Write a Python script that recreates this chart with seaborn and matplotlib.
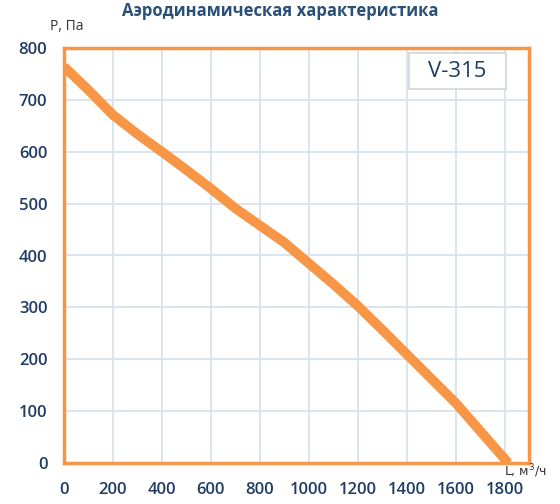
import numpy as np
import pandas as pd
import matplotlib
matplotlib.use("Agg")
import matplotlib.pyplot as plt
from matplotlib.patches import Rectangle
import seaborn as sns

# data
flow = [0, 100, 200, 300, 400, 500, 600, 700, 800, 900, 1000, 1100, 1200, 1300, 1400, 1500, 1600, 1700, 1815]
pressure = [764, 719, 671, 634, 600, 565, 529, 491, 458, 425, 385, 345, 303, 257, 210, 163, 116, 62, 0]
x_ticks = [0, 200, 400, 600, 800, 1000, 1200, 1400, 1600, 1800]
y_ticks = [0, 100, 200, 300, 400, 500, 600, 700, 800]
model_name = "V-315"

orange = "#f79646"
navy = "#1f3d63"
grid_col = "#d8e3ee"

sns.set_theme(style="white")
plt.rcParams["font.family"] = ["Open Sans", "DejaVu Sans"]

df = pd.DataFrame({"L": flow, "P": pressure})

fig = plt.figure(figsize=(5.6, 5.04), dpi=100)
ax = fig.add_axes([64 / 560, 41 / 504, 465 / 560, 415 / 504])

sns.lineplot(data=df, x="L", y="P", ax=ax, color=orange, linewidth=7,
             solid_capstyle="butt", solid_joinstyle="round", zorder=3)

ax.set_xlim(0, 1900)
ax.set_ylim(0, 800)
ax.set_xticks(x_ticks)
ax.set_yticks(y_ticks)
ax.grid(True, color=grid_col, linewidth=1.3)
ax.set_axisbelow(True)
for s in ax.spines.values():
    s.set_color(orange)
    s.set_linewidth(2.5)
    s.set_zorder(4)

ax.tick_params(axis="both", length=0, labelcolor=navy, labelsize=12)
ax.tick_params(axis="x", pad=14)
ax.tick_params(axis="y", pad=12)
for lab in ax.get_xticklabels() + ax.get_yticklabels():
    lab.set_fontweight("semibold")
ax.set_xlabel("")
ax.set_ylabel("")

# model label box
ax.add_patch(Rectangle((1408, 720), 400, 71, fc="white", ec="#d0d6dc", lw=1.2, zorder=5))
ax.text(1608, 755, model_name, ha="center", va="center", fontsize=16, color=navy, zorder=6)

fig.text(0.5, 1 - 11 / 504, "Аэродинамическая характеристика", ha="center", va="center",
         fontsize=12, fontweight="bold", color="#2b5078")
fig.text(67 / 560, 1 - 27 / 504, "P, Па", ha="center", va="center", fontsize=10, color="#333333")
fig.text(525 / 560, 1 - 471 / 504, "L, м$^3$/ч", ha="center", va="center", fontsize=9,
         color="#333333", family=["Liberation Sans Narrow", "DejaVu Sans"])

fig.savefig("out.png", dpi=100)
